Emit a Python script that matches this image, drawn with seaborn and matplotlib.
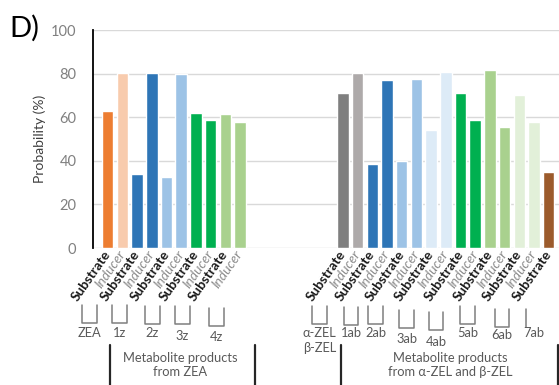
import matplotlib
matplotlib.use("Agg")
import matplotlib.pyplot as plt
import matplotlib.transforms as mtransforms
from matplotlib.lines import Line2D
import pandas as pd
import seaborn as sns

# Probability (%) that each compound acts as substrate / inducer
zea_compounds = ["ZEA", "1z", "2z", "3z", "4z"]
zea_substrate = [62.8, 34.0, 32.7, 61.8, 61.5]
zea_inducer = [80.5, 80.5, 79.7, 58.5, 57.6]

zel_compounds = ["α-ZEL\nβ-ZEL", "1ab", "2ab", "3ab", "4ab", "5ab", "6ab", "7ab"]
zel_substrate = [71.3, 38.5, 40.0, 54.2, 71.0, 81.5, 70.1, 35.0]
zel_inducer = [80.5, 77.0, 77.7, 80.8, 58.8, 55.4, 57.6, None]

roles = ["Substrate", "Inducer"]
group_titles = ["Metabolite products\nfrom ZEA",
                "Metabolite products\nfrom α-ZEL and β-ZEL"]

# Fill colours: (substrate, inducer) per compound
zea_colors = [("#ED7D31", "#F8CBAD"), ("#2E75B6", "#2E75B6"),
              ("#9DC3E6", "#9DC3E6"), ("#00B050", "#00B050"),
              ("#A9D18E", "#A9D18E")]
zel_colors = [("#7F7F7F", "#AEAAAA"), ("#2E75B6", "#2E75B6"),
              ("#9DC3E6", "#9DC3E6"), ("#DDEBF7", "#DDEBF7"),
              ("#00B050", "#00B050"), ("#A9D18E", "#A9D18E"),
              ("#E2F0D9", "#E2F0D9"), ("#9C5B2C", "#9C5B2C")]

# ---- layout -------------------------------------------------------------
W, H = 559, 385
group_start = [0, 16]          # first slot of each compound group

rows = []
for g, (comps, subs, inds, cols) in enumerate(
        [(zea_compounds, zea_substrate, zea_inducer, zea_colors),
         (zel_compounds, zel_substrate, zel_inducer, zel_colors)]):
    for i, comp in enumerate(comps):
        for r, val in enumerate([subs[i], inds[i]]):
            if val is None:
                continue
            slot = group_start[g] + 2 * i + r
            rows.append(dict(slot=slot, bar=f"b{slot}", role=roles[r],
                             compound=comp, value=val, color=cols[i][r],
                             group=g, pair=group_start[g] + 2 * i))
df = pd.DataFrame(rows)

sns.set_theme(style="white")
plt.rcParams["font.family"] = ["Lato", "DejaVu Sans"]

fig = plt.figure(figsize=(W / 100, H / 100), dpi=100)
ax = fig.add_axes([93 / W, (H - 248) / H, 466 / W, 218 / H])

sns.barplot(data=df, x="slot", y="value", hue="bar",
            palette=dict(zip(df["bar"], df["color"])),
            native_scale=True, width=0.78, dodge=False, saturation=1,
            errorbar=None, legend=False, ax=ax)

ax.set_xlim(-1, 30.7)
ax.set_ylim(0, 100)
ax.set_yticks(range(0, 101, 20))
ax.yaxis.grid(True, color="#D9D9D9", linewidth=1)
ax.set_axisbelow(True)
for side in ["top", "right", "bottom"]:
    ax.spines[side].set_visible(False)
ax.spines["left"].set_color("black")
ax.spines["left"].set_linewidth(1.3)
ax.tick_params(axis="y", length=4, width=1.2, color="black", pad=8,
               labelsize=10.5, labelcolor="#808080")
ax.set_xlabel("")
ax.set_ylabel("")

# rotated role labels under each bar
ax.set_xticks(df["slot"])
ax.set_xticklabels(df["role"], rotation=55, ha="right", va="center",
                   rotation_mode="anchor")
ax.tick_params(axis="x", length=0, pad=3)
for lab, role in zip(ax.get_xticklabels(), df["role"]):
    if role == "Substrate":
        lab.set_fontweight("bold")
        lab.set_color("#1a1a1a")
    else:
        lab.set_fontstyle("italic")
        lab.set_color("#8c8c8c")
    lab.set_fontsize(9.8)

fig.text(40 / W, 1 - 139 / H, "Probability (%)", rotation=90,
         ha="center", va="center", fontsize=10, color="#404040")
fig.text(9 / W, 1 - 37 / H, "D)", fontsize=21, color="black",
         ha="left", va="baseline")

# ---- compound brackets and names ---------------------------------------
tr = mtransforms.blended_transform_factory(ax.transData, fig.transFigure)


def fy(px):
    return 1 - px / H


# horizontal shift of each bracket from its pair slot, and small vertical drops
bracket_shift = [-1.76, -1.71, -1.45, -1.41, -1.10,
                 -2.09, -1.94, -2.28, -2.17, -2.16, -2.02, -1.67, -1.55]
bracket_drop = [0, 0, 1, 1, 3, 1, 2, 1, 5, 7, 1, 4, 4]
name_drop = [0, 0, 0, 3, 4, 0, 0, 0, 6, 9, 0, 2, 0]

pairs = df.drop_duplicates("pair")[["pair", "compound"]].values.tolist()
gray = "#7F7F7F"
for k, (pair, comp) in enumerate(pairs):
    x0 = pair + bracket_shift[k]
    top, bot = fy(305 + bracket_drop[k]), fy(323 + bracket_drop[k])
    ty = fy(327 + name_drop[k])
    if comp == "7ab":
        ax.add_line(Line2D([x0, x0], [top, bot], transform=tr,
                           color=gray, lw=1.1, clip_on=False))
        fig.text(x0 + 0.55, ty, comp, transform=tr, ha="center", va="top",
                 fontsize=9.3, color="#595959", linespacing=1.3)
    else:
        ax.add_line(Line2D([x0, x0, x0 + 1, x0 + 1], [top, bot, bot, top],
                           transform=tr, color=gray, lw=1.1, clip_on=False))
        fig.text(x0 + 0.5, ty, comp, transform=tr, ha="center", va="top",
                 fontsize=9.3, color="#595959", linespacing=1.3)

# group separators and titles
sep_x = [(0.17, 10.03), (15.9, 30.6)]
title_x = [4.93, 23.3]
for (xa, xb), tx, title in zip(sep_x, title_x, group_titles):
    for xs in (xa, xb):
        ax.add_line(Line2D([xs, xs], [fy(345), fy(385)], transform=tr,
                           color="#262626", lw=1.6, clip_on=False))
    fig.text(tx, fy(352), title, transform=tr, ha="center", va="top",
             fontsize=9.3, color="#595959", linespacing=1.2)

fig.savefig("out.png", dpi=100)
